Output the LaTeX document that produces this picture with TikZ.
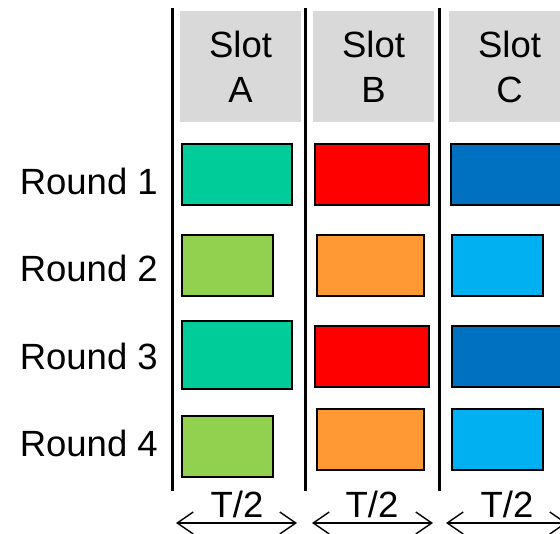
\documentclass[tikz,border=0pt]{standalone}
\usepackage{fontspec}
\setmainfont{Liberation Sans}
\usetikzlibrary{arrows.meta}

\definecolor{headgray}{RGB}{217,217,217}
\definecolor{jobteal}{RGB}{0,204,153}
\definecolor{joblime}{RGB}{146,208,80}
\definecolor{jobred}{RGB}{255,0,0}
\definecolor{joborange}{RGB}{255,153,51}
\definecolor{jobblue}{RGB}{0,112,192}
\definecolor{jobsky}{RGB}{0,176,240}

\begin{document}
\begin{tikzpicture}[x=1pt, y=-1pt,
    big/.style={font=\fontsize{36.5}{45}\selectfont},
    slothead/.style={big, fill=headgray, align=center, inner sep=0pt,
                     minimum width=121pt, minimum height=111pt},
    job/.style={draw=black, line width=1.6pt},
    sep/.style={line width=3pt},
    span/.style={line width=1.4pt,
                 {Straight Barb[length=16pt,width=22pt]}-{Straight Barb[length=16pt,width=22pt]}}]
  \useasboundingbox (0,0) rectangle (560,534);
  \clip (0,0) rectangle (560,534);

  % slot headers
  \node[slothead] (slotA) at (240.5,66.5) {Slot\\A};
  \node[slothead] (slotB) at (373.5,67) {Slot\\B};
  \node[slothead] (slotC) at (509.5,67) {Slot\\C};

  % rounds
  \node[big, inner sep=0pt, anchor=base east] (round1) at (158,195) {Round 1};
  \node[big, inner sep=0pt, anchor=base east] (round2) at (158,282) {Round 2};
  \node[big, inner sep=0pt, anchor=base east] (round3) at (158,370) {Round 3};
  \node[big, inner sep=0pt, anchor=base east] (round4) at (158,457) {Round 4};

  % slot separators
  \draw[sep] (172,8) -- (172,491);
  \draw[sep] (305,8) -- (305,491);
  \draw[sep] (439,8) -- (439,491);

  % round 1
  \draw[job, fill=jobteal]   (182,144) rectangle (292,205);
  \draw[job, fill=jobred]    (315,144) rectangle (429,205);
  \draw[job, fill=jobblue]   (451,144) rectangle (575,205);
  % round 2
  \draw[job, fill=joblime]   (182,235) rectangle (273,296);
  \draw[job, fill=joborange] (317,235) rectangle (424,296);
  \draw[job, fill=jobsky]    (452,235) rectangle (543,296);
  % round 3
  \draw[job, fill=jobteal]   (182,321) rectangle (292,389);
  \draw[job, fill=jobred]    (315,326) rectangle (429,387);
  \draw[job, fill=jobblue]   (452,326) rectangle (575,387);
  % round 4
  \draw[job, fill=joblime]   (182,416) rectangle (273,477);
  \draw[job, fill=joborange] (317,409) rectangle (424,470);
  \draw[job, fill=jobsky]    (452,409) rectangle (543,470);

  % half-period spans
  \coordinate (spanAl) at (176,523);
  \coordinate (spanAr) at (297,523);
  \coordinate (spanBl) at (312,523);
  \coordinate (spanBr) at (433,523);
  \coordinate (spanCl) at (446,523);
  \coordinate (spanCr) at (567,523);
  \draw[span] (spanAl) -- (spanAr);
  \draw[span] (spanBl) -- (spanBr);
  \draw[span] (spanCl) -- (spanCr);
  \node[big, anchor=base] (halfA) at (237,518) {T/2};
  \node[big, anchor=base] (halfB) at (372,518) {T/2};
  \node[big, anchor=base] (halfC) at (507,518) {T/2};
\end{tikzpicture}
\end{document}
